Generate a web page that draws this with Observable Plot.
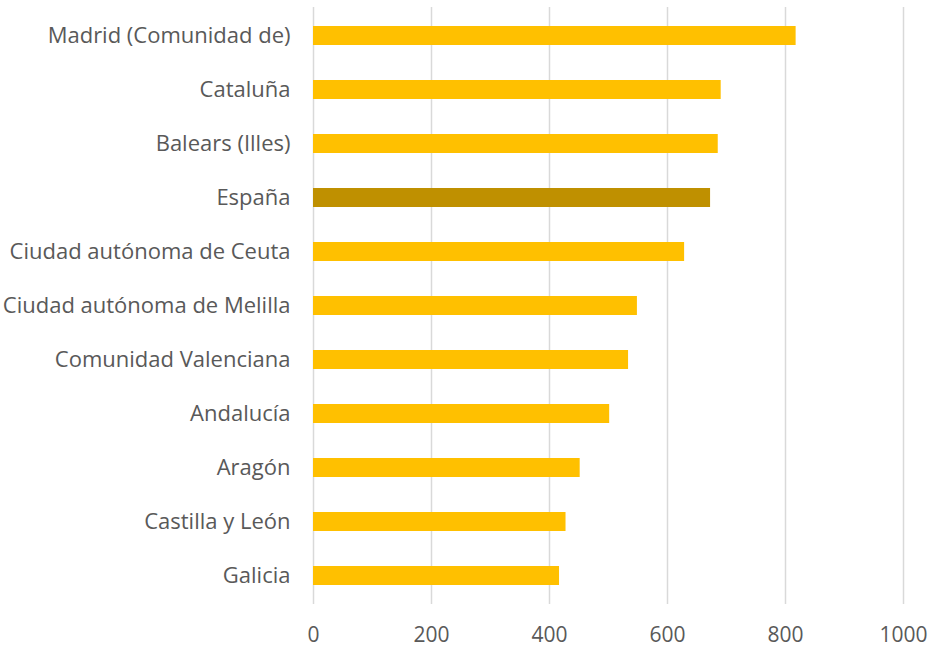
<!DOCTYPE html>
<html>
<head>
<meta charset="utf-8">
<script src="https://cdn.jsdelivr.net/npm/d3@7"></script>
<script src="https://cdn.jsdelivr.net/npm/@observablehq/plot@0.6"></script>
<style>
  body { margin: 0; background: #fff; }
  #chart svg { font-family: "Open Sans", sans-serif; }
</style>
</head>
<body>
<div id="chart"></div>
<script>
const regions = ["Madrid (Comunidad de)", "Cataluña", "Balears (Illes)", "España", "Ciudad autónoma de Ceuta", "Ciudad autónoma de Melilla", "Comunidad Valenciana", "Andalucía", "Aragón", "Castilla y León", "Galicia"];
const values = [818, 691, 686, 673, 629, 549, 534, 502, 452, 428, 417];
const highlight = "España";
const xTicks = [0, 200, 400, 600, 800, 1000];

const data = regions.map((r, i) => ({region: r, value: values[i]}));

const chart = Plot.plot({
  width: 930,
  height: 648,
  marginLeft: 313,
  marginRight: 27,
  marginTop: 7,
  marginBottom: 44,
  style: {fontSize: "21px", color: "#595959", background: "#fff"},
  x: {domain: [0, 1000], label: null},
  y: {domain: regions, label: null, paddingInner: 0.64, paddingOuter: 0.32},
  marks: [
    Plot.gridX(xTicks, {stroke: "#d9d9d9", strokeOpacity: 1, strokeWidth: 1.5}),
    Plot.barX(data, {y: "region", x: "value", fill: d => d.region === highlight ? "#BF9000" : "#FFC000"}),
    Plot.axisX(xTicks, {tickSize: 0, tickPadding: 23, tickFormat: d => String(d), fontSize: 21, label: null}),
    Plot.axisY({tickSize: 0, tickPadding: 23, fontSize: 22, label: null})
  ]
});
document.getElementById("chart").append(chart);
</script>
</body>
</html>
